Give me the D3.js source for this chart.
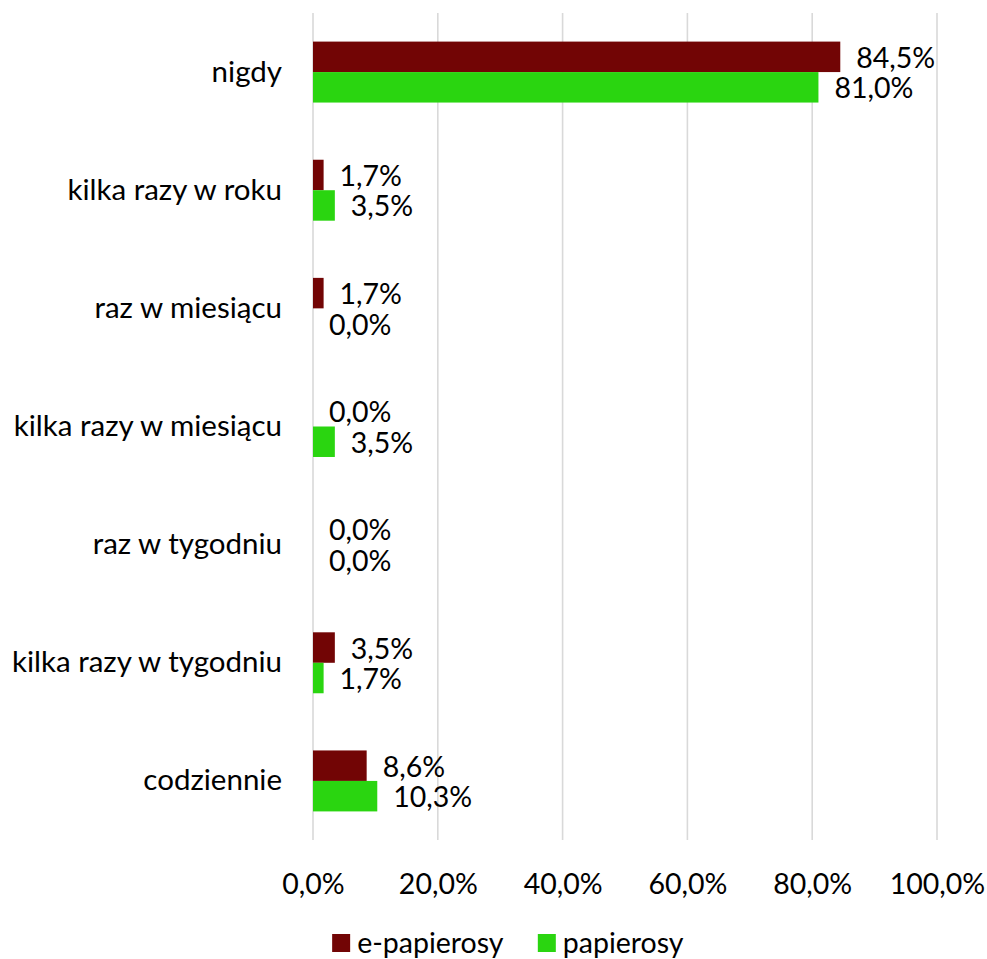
<!DOCTYPE html>
<html>
<head>
<meta charset="utf-8">
<script src="https://cdn.jsdelivr.net/npm/d3@7"></script>
<style>
  html, body { margin: 0; padding: 0; background: #ffffff; }
  svg { display: block; }
  text { font-family: Lato, "Open Sans", sans-serif; fill: #000000; }
</style>
</head>
<body>
<div id="chart"></div>
<script>
const categories = ["nigdy", "kilka razy w roku", "raz w miesiącu", "kilka razy w miesiącu", "raz w tygodniu", "kilka razy w tygodniu", "codziennie"];
const seriesNames = ["e-papierosy", "papierosy"];
const ePapierosy = [84.5, 1.7, 1.7, 0.0, 0.0, 3.5, 8.6];
const papierosy = [81.0, 3.5, 0.0, 3.5, 0.0, 1.7, 10.3];
const tickValues = [0, 20, 40, 60, 80, 100];
const colors = ["#720505", "#2AD510"];

const W = 987, H = 959;
const margin = { left: 313, right: 50, top: 13, bottom: 119 };
const fontSize = 28.5;
const catFontSize = 29.5;

const locale = d3.formatLocale({ decimal: ",", thousands: " ", grouping: [3], currency: ["", " zł"] });
const fmt = locale.format(".1f");
const pct = v => fmt(v) + "%";

const svg = d3.select("#chart").append("svg").attr("width", W).attr("height", H);

const x = d3.scaleLinear().domain([0, 100]).range([margin.left, W - margin.right]);
const y = d3.scaleBand().domain(categories).range([margin.top, H - margin.bottom])
  .paddingInner(0.484).paddingOuter(0.242);
const ys = d3.scaleBand().domain(seriesNames).range([0, y.bandwidth()]);

const seriesData = [ePapierosy, papierosy];
const rows = [];
categories.forEach((c, i) => {
  seriesNames.forEach((s, j) => rows.push({ cat: c, series: s, value: seriesData[j][i], idx: j }));
});

// gridlines
svg.append("g").selectAll("line").data(tickValues).join("line")
  .attr("x1", d => x(d)).attr("x2", d => x(d))
  .attr("y1", margin.top).attr("y2", H - margin.bottom)
  .attr("stroke", "#d9d9d9").attr("stroke-width", 1.6);

// bars
svg.append("g").selectAll("rect").data(rows).join("rect")
  .attr("x", x(0))
  .attr("y", d => y(d.cat) + ys(d.series))
  .attr("width", d => x(d.value) - x(0))
  .attr("height", ys.bandwidth())
  .attr("fill", d => colors[d.idx]);

// data labels
svg.append("g").selectAll("text").data(rows).join("text")
  .attr("x", d => x(d.value) + 16)
  .attr("y", d => y(d.cat) + ys(d.series) + ys.bandwidth() / 2)
  .attr("dominant-baseline", "central")
  .attr("font-size", fontSize)
  .text(d => pct(d.value));

// category axis labels
const yAxis = d3.axisLeft(y).tickSize(0).tickPadding(31);
const gy = svg.append("g").attr("transform", `translate(${x(0)},0)`).call(yAxis);
gy.select(".domain").remove();
gy.selectAll("text").attr("font-size", catFontSize).attr("font-family", "Lato, 'Open Sans', sans-serif").attr("fill", "#000");

// value axis labels
const xAxis = d3.axisBottom(x).tickValues(tickValues).tickSize(0).tickPadding(0).tickFormat(d => pct(d));
const gx = svg.append("g").attr("transform", `translate(0,${H - margin.bottom})`).call(xAxis);
gx.select(".domain").remove();
gx.selectAll("text").attr("font-size", fontSize).attr("font-family", "Lato, 'Open Sans', sans-serif")
  .attr("fill", "#000").attr("dy", null).attr("y", 43).attr("dominant-baseline", "central");

// legend
const legend = svg.append("g");
const legendY = 942;
const items = legend.selectAll("g").data(seriesNames).join("g");
items.append("rect").attr("width", 18).attr("height", 18).attr("y", legendY - 8)
  .attr("fill", (d, i) => colors[i]);
items.append("text").attr("x", 25).attr("y", legendY).attr("dominant-baseline", "central")
  .attr("font-size", fontSize).text(d => d);
let cursor = 0;
const widths = [];
items.each(function () { widths.push(this.getBBox().width); });
const gap = 34;
const total = d3.sum(widths) + gap * (widths.length - 1);
cursor = 508 - total / 2;
items.attr("transform", (d, i) => {
  const t = `translate(${cursor},0)`;
  cursor += widths[i] + gap;
  return t;
});
</script>
</body>
</html>
